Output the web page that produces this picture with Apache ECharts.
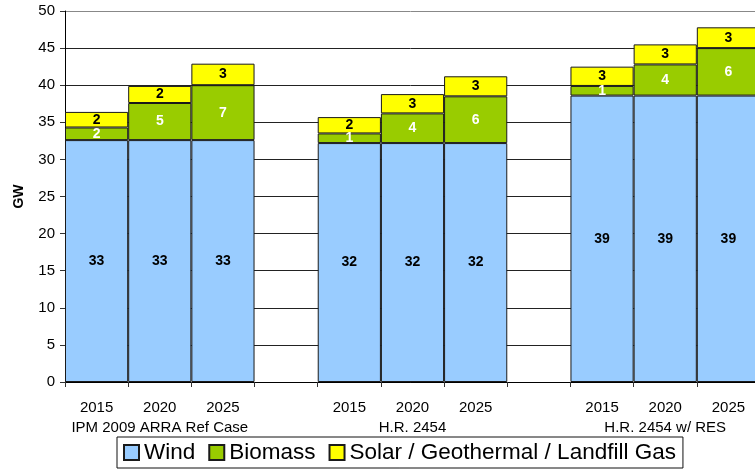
<!DOCTYPE html>
<html>
<head>
<meta charset="utf-8">
<script src="https://cdn.jsdelivr.net/npm/echarts@6/dist/echarts.min.js"></script>
<style>html,body{margin:0;padding:0;background:#fff;}#c{width:755px;height:469px;}</style>
</head>
<body>
<div id="c"></div>
<script>
var years = ['2015','2020','2025','','2015','2020','2025','','2015','2020','2025'];
var groupNames = ['', 'IPM 2009 ARRA Ref Case', '', '', '', 'H.R. 2454', '', '', '', 'H.R. 2454 w/ RES', ''];
var wind = [32.6, 32.6, 32.6, null, 32.2, 32.2, 32.2, null, 38.6, 38.6, 38.6];
var biomass = [1.7, 5.0, 7.4, null, 1.3, 4.0, 6.3, null, 1.3, 4.2, 6.4];
var solar = [2.1, 2.3, 2.9, null, 2.2, 2.6, 2.7, null, 2.6, 2.7, 2.8];
var seriesNames = ['Wind', 'Biomass', 'Solar / Geothermal / Landfill Gas'];
var yTicks = [0, 50, 5];

var FONT = "'Liberation Sans', Arial, sans-serif";
function mk(name, data, color, labelColor) {
  return {
    name: name, type: 'bar', stack: 'all', data: data,
    barWidth: '100%', barCategoryGap: 0,
    itemStyle: { color: color, borderColor: '#1a1a1a', borderWidth: 1 },
    label: { show: true, position: 'inside', color: labelColor, fontWeight: 'bold',
      fontSize: 14, fontFamily: FONT,
      formatter: function (p) { return p.value == null ? '' : String(Math.round(p.value)); } },
    emphasis: { disabled: true },
    animation: false
  };
}
var chart = echarts.init(document.getElementById('c'));
chart.setOption({
  animation: false,
  grid: { left: 65, right: -5, top: 11, bottom: 87, containLabel: false, outerBoundsMode: 'none' },
  legend: {
    left: 117, top: 437, padding: [4, 7, 4, 6], itemGap: 13,
    itemWidth: 15, itemHeight: 15, borderColor: '#111', borderWidth: 1,
    textStyle: { fontSize: 22.5, fontFamily: FONT, color: '#000' },
    icon: 'rect', data: seriesNames
  },
  xAxis: {
    type: 'category', data: years,
    axisLine: { lineStyle: { color: '#000', width: 1 } },
    axisTick: { show: true, interval: 0, length: 5, lineStyle: { color: '#333' } },
    axisLabel: { interval: 0, margin: 16, fontSize: 15, lineHeight: 20, color: '#000', fontFamily: FONT,
      formatter: function (v, i) { return groupNames[i] ? v + '\n' + groupNames[i] : v; } }
  },
  yAxis: {
    type: 'value', min: yTicks[0], max: yTicks[1], interval: yTicks[2],
    name: 'GW', nameLocation: 'middle', nameGap: 39, nameRotate: 90,
    nameTextStyle: { fontWeight: 'bold', fontSize: 14, color: '#000', fontFamily: FONT },
    axisLine: { show: true, lineStyle: { color: '#000' } },
    axisTick: { show: true, length: 5, lineStyle: { color: '#333' } },
    axisLabel: { fontSize: 15, color: '#000', margin: 10, fontFamily: FONT },
    splitLine: { show: true, lineStyle: { color: ['#000','#222','#222','#222','#222','#222','#222','#222','#222','#222','#888'], width: 1 } }
  },
  series: [
    mk(seriesNames[0], wind, '#99CCFF', '#000'),
    mk(seriesNames[1], biomass, '#99CC00', '#fff'),
    mk(seriesNames[2], solar, '#FFFF00', '#000')
  ]
});
</script>
</body>
</html>
